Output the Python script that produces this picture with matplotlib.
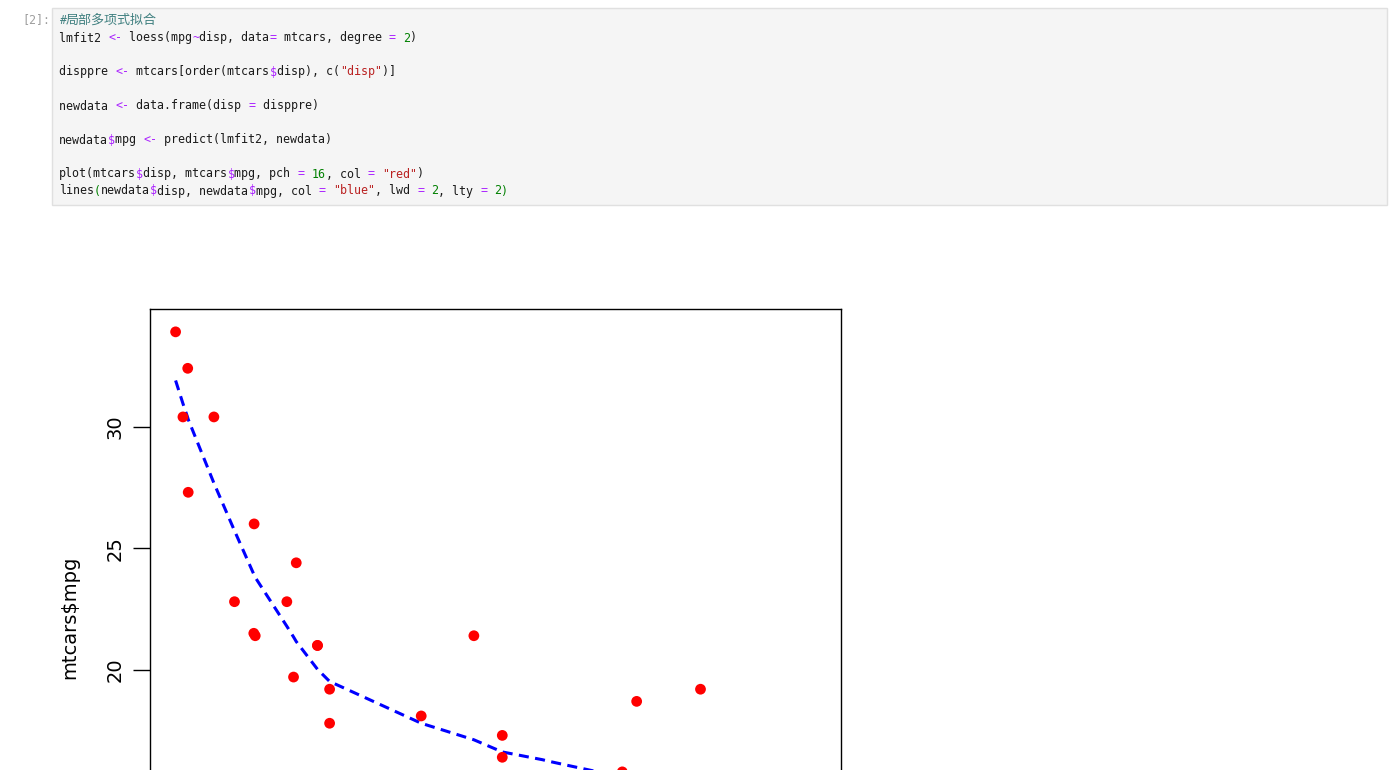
import matplotlib
matplotlib.use("Agg")
import matplotlib.pyplot as plt
from matplotlib.patches import Rectangle

# mtcars data (disp, mpg)
disp = [160, 160, 108, 258, 360, 225, 360, 146.7, 140.8, 167.6, 167.6, 275.8, 275.8, 275.8,
        472, 460, 440, 78.7, 75.7, 71.1, 120.1, 318, 304, 350, 400, 79.0, 120.3, 95.1,
        351, 145, 301, 121.0]
mpg = [21.0, 21.0, 22.8, 21.4, 18.7, 18.1, 14.3, 24.4, 22.8, 19.2, 17.8, 16.4, 17.3, 15.2,
       10.4, 10.4, 14.7, 32.4, 30.4, 33.9, 21.5, 15.5, 15.2, 13.3, 19.2, 27.3, 26.0, 30.4,
       15.8, 19.7, 15.0, 21.4]

# loess curve at the sorted disp values
fit_disp = [71.1, 75.7, 78.7, 79.0, 95.1, 108, 120.1, 120.3, 121.0, 140.8, 145, 146.7,
            160, 160, 167.6, 167.6, 225, 258, 275.8, 275.8, 275.8, 301, 304, 318, 350,
            351, 360, 360, 400, 440, 460, 472]
fit_mpg = [31.9, 30.95, 30.37, 30.30, 27.68, 25.72, 23.93, 23.91, 23.80, 21.79, 21.35, 21.16,
           20.02, 20.02, 19.52, 19.52, 17.8, 17.12, 16.62, 16.62, 16.62, 16.3, 16.25, 16.05,
           15.6, 15.58, 15.4, 15.4, 14.2, 12.4, 11.5, 11.0]

yticks = [20, 25, 30]

W, H = 1393, 770
fig = plt.figure(figsize=(W / 100, H / 100), dpi=100)


def fx(x):
    return x / W


def fy(y):
    return 1 - y / H


# code cell
fig.patches.append(Rectangle((fx(52), fy(205)), fx(1387) - fx(52), (205 - 8) / H,
                             transform=fig.transFigure, facecolor="#f5f5f5",
                             edgecolor="#e0e0e0", linewidth=1))
fig.text(fx(22), fy(20), "[2]:", family="DejaVu Sans Mono", fontsize=8.4,
         color="#9e9e9e", va="center", ha="left")

K, P, G, R = "#1a1a1a", "#aa22ff", "#008000", "#ba2121"
code_lines = [
    (38, [("lmfit2 ", K), ("<-", P), (" loess(mpg", K), ("~", P), ("disp, data", K), ("=", P),
          (" mtcars, degree ", K), ("=", P), (" ", K), ("2", G), (")", K)]),
    (72, [("disppre ", K), ("<-", P), (" mtcars[order(mtcars", K), ("$", P), ("disp), c(", K),
          ('"disp"', R), (")]", K)]),
    (106, [("newdata ", K), ("<-", P), (" data.frame(disp ", K), ("=", P), (" disppre)", K)]),
    (140, [("newdata", K), ("$", P), ("mpg ", K), ("<-", P), (" predict(lmfit2, newdata)", K)]),
    (174, [("plot(mtcars", K), ("$", P), ("disp, mtcars", K), ("$", P), ("mpg, pch ", K), ("=", P),
           (" ", K), ("16", G), (", col ", K), ("=", P), (" ", K), ('"red"', R), (")", K)]),
    (191, [("lines", K), ("(", G), ("newdata", K), ("$", P), ("disp, newdata", K), ("$", P),
           ("mpg, col ", K), ("=", P), (" ", K), ('"blue"', R), (", lwd ", K), ("=", P), (" ", K),
           ("2", G), (", lty ", K), ("=", P), (" ", K), ("2", G), (")", G)]),
]
cw = 7.02
fig.text(fx(59), fy(20), "#", family="DejaVu Sans Mono", fontsize=8.4, style="italic",
         color="#408080", va="center", ha="left")
fig.text(fx(59 + cw), fy(20), "局部多项式拟合", family=["Noto Sans CJK SC", "DejaVu Sans"],
         fontsize=9.4, color="#408080", va="center", ha="left")
for y, toks in code_lines:
    col = 0
    for t, c in toks:
        if t.strip():
            fig.text(fx(59 + col * cw), fy(y), t, family="DejaVu Sans Mono", fontsize=8.4,
                     color=c, va="center", ha="left")
        col += len(t)

# plot (bottom part falls outside the cell output)
ax = fig.add_axes([fx(150), fy(926), (841 - 150) / W, (926 - 309) / H])
ax.scatter(disp, mpg, s=60, color="red", edgecolors="none", zorder=3)
ax.plot(fit_disp, fit_mpg, color="blue", lw=2.2, linestyle=(0, (3.3, 2.1)), zorder=2)
ax.set_xlim(55.06, 488.04)
ax.set_ylim(9.46, 34.84)
ax.set_xticks([])
ax.set_yticks(yticks)
ax.tick_params(axis="y", length=12.2, width=1, pad=6, labelsize=14, labelrotation=90)
for lab in ax.get_yticklabels():
    lab.set_va("center")
for s in ax.spines.values():
    s.set_linewidth(1)
fig.text(fx(70), fy(617), "mtcars$mpg", rotation=90, ha="center", va="center", fontsize=14)

fig.savefig("out.png", dpi=100)
